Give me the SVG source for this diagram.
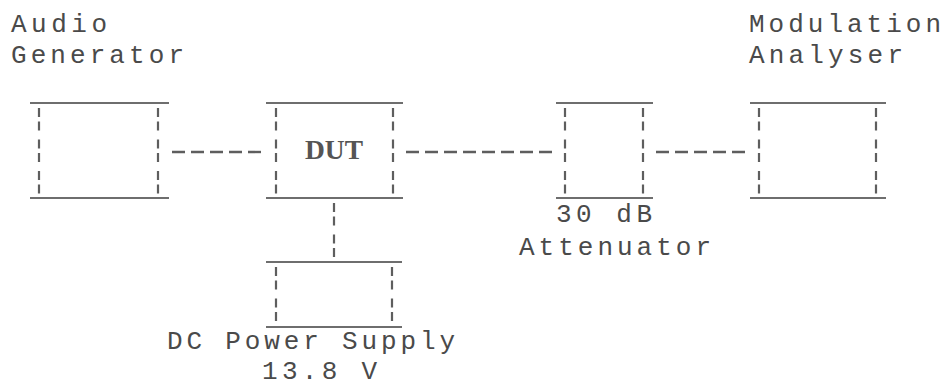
<svg xmlns="http://www.w3.org/2000/svg" width="948" height="387" viewBox="0 0 948 387">
<style>
.bg{fill:#ffffff}
.edge{stroke:#6e6e6e;stroke-width:2;fill:none}
.side{stroke:#5e5e5e;stroke-width:2.2;fill:none;stroke-dasharray:9 4.5 9 9}
.link{stroke:#5e5e5e;stroke-width:2.4;fill:none;stroke-dasharray:13 6}
.vlink{stroke:#5e5e5e;stroke-width:2.2;fill:none;stroke-dasharray:9 4.5 9 9}
.lbl{font-family:"Liberation Mono","Courier New",monospace;font-size:26px;fill:#4a4a4a}
.dut{font-family:"Liberation Serif","Times New Roman",serif;font-size:27px;font-weight:bold;fill:#555555}
</style>
<rect class="bg" x="0" y="0" width="948" height="387"/>
<g id="audio-generator">
  <line class="edge" x1="30" y1="103" x2="169" y2="103"/>
  <line class="edge" x1="30" y1="198" x2="169" y2="198"/>
  <line class="side" x1="39" y1="108" x2="39" y2="195"/>
  <line class="side" x1="158" y1="108" x2="158" y2="195"/>
  <text class="lbl" x="11" y="32" textLength="96" lengthAdjust="spacing">Audio</text>
  <text class="lbl" x="11" y="63" textLength="173" lengthAdjust="spacing">Generator</text>
</g>
<g id="dut">
  <line class="edge" x1="266" y1="103" x2="403" y2="103"/>
  <line class="edge" x1="266" y1="198" x2="403" y2="198"/>
  <line class="side" x1="276" y1="108" x2="276" y2="195"/>
  <line class="side" x1="393" y1="108" x2="393" y2="195"/>
  <text class="dut" x="305" y="159" textLength="58" lengthAdjust="spacingAndGlyphs">DUT</text>
</g>
<g id="attenuator">
  <line class="edge" x1="556" y1="103" x2="653" y2="103"/>
  <line class="edge" x1="556" y1="198" x2="653" y2="198"/>
  <line class="side" x1="565" y1="108" x2="565" y2="195"/>
  <line class="side" x1="643" y1="108" x2="643" y2="195"/>
  <text class="lbl" x="556" y="222" textLength="96" lengthAdjust="spacing">30 dB</text>
  <text class="lbl" x="519" y="255" textLength="192" lengthAdjust="spacing">Attenuator</text>
</g>
<g id="modulation-analyser">
  <line class="edge" x1="750" y1="103" x2="886" y2="103"/>
  <line class="edge" x1="750" y1="198" x2="886" y2="198"/>
  <line class="side" x1="759" y1="108" x2="759" y2="195"/>
  <line class="side" x1="876" y1="108" x2="876" y2="195"/>
  <text class="lbl" x="749" y="32" textLength="192" lengthAdjust="spacing">Modulation</text>
  <text class="lbl" x="749" y="63" textLength="154" lengthAdjust="spacing">Analyser</text>
</g>
<g id="dc-power-supply">
  <line class="edge" x1="266" y1="262" x2="402" y2="262"/>
  <line class="edge" x1="266" y1="327" x2="402" y2="327"/>
  <line class="side" x1="276" y1="267" x2="276" y2="324"/>
  <line class="side" x1="392" y1="267" x2="392" y2="324"/>
  <text class="lbl" x="167" y="349" textLength="288" lengthAdjust="spacing">DC Power Supply</text>
  <text class="lbl" x="262" y="379" textLength="115" lengthAdjust="spacing">13.8 V</text>
</g>
<g id="connectors">
  <line class="link" x1="172" y1="152" x2="263" y2="152"/>
  <line class="link" x1="406" y1="152" x2="552" y2="152"/>
  <line class="link" x1="656" y1="152" x2="747" y2="152"/>
  <line class="vlink" x1="334" y1="203" x2="334" y2="260"/>
</g>
</svg>
